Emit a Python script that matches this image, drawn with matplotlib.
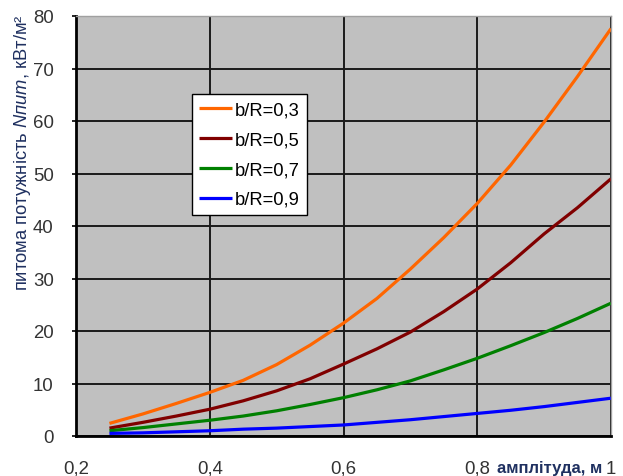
import matplotlib
matplotlib.use("Agg")
import matplotlib.pyplot as plt

plt.rcParams['font.family'] = ['Liberation Sans', 'DejaVu Sans']
plt.rcParams['mathtext.fontset'] = 'custom'
plt.rcParams['mathtext.rm'] = 'Liberation Sans'
plt.rcParams['mathtext.it'] = 'Liberation Sans:italic'
plt.rcParams['mathtext.bf'] = 'Liberation Sans:bold'

# amplitude, m
amplitude = [0.25, 0.30, 0.35, 0.40, 0.45, 0.50, 0.55, 0.60,
             0.65, 0.70, 0.75, 0.80, 0.85, 0.90, 0.95, 1.00]

# specific power, kW/m^2, for each b/R ratio
power_03 = [2.4, 4.2, 6.2, 8.3, 10.6, 13.6, 17.3, 21.5,
            26.2, 31.8, 37.8, 44.3, 51.6, 59.8, 68.5, 77.6]
power_05 = [1.5, 2.6, 3.8, 5.1, 6.7, 8.6, 10.9, 13.7,
            16.6, 19.8, 23.7, 28.0, 33.0, 38.5, 43.5, 49.0]
power_07 = [1.0, 1.6, 2.3, 3.0, 3.8, 4.8, 6.0, 7.3,
            8.8, 10.5, 12.6, 14.8, 17.2, 19.7, 22.4, 25.3]
power_09 = [0.5, 0.6, 0.8, 1.0, 1.3, 1.5, 1.8, 2.1,
            2.6, 3.1, 3.7, 4.3, 4.9, 5.6, 6.4, 7.2]

series_labels = ['b/R=0,3', 'b/R=0,5', 'b/R=0,7', 'b/R=0,9']
series_colors = ['#ff6600', '#800000', '#008000', '#0000ff']

x_ticks = [0.2, 0.4, 0.6, 0.8, 1.0]
x_tick_labels = ['0,2', '0,4', '0,6', '0,8', '1']
y_ticks = [0, 10, 20, 30, 40, 50, 60, 70, 80]
y_tick_labels = ['0', '10', '20', '30', '40', '50', '60', '70', '80']

fig = plt.figure(figsize=(6.23, 4.77), dpi=100)
ax = fig.add_axes([76 / 623, 40 / 477, 535 / 623, 420 / 477])
ax.set_facecolor('#c0c0c0')

for ys, lab, col in zip([power_03, power_05, power_07, power_09],
                        series_labels, series_colors):
    ax.plot(amplitude, ys, color=col, lw=2.3, label=lab, solid_capstyle='butt')

ax.set_xlim(0.2, 1.0)
ax.set_ylim(0, 80)
ax.set_xticks(x_ticks)
ax.set_xticklabels(x_tick_labels)
ax.set_yticks(y_ticks)
ax.set_yticklabels(y_tick_labels)

ax.grid(True, color='#1a1a1a', lw=1.4)
ax.set_axisbelow(True)

ax.tick_params(axis='x', length=0, pad=17, labelsize=13.4, labelcolor='#333333')
ax.tick_params(axis='y', length=3, width=1.2, direction='out', pad=13,
               labelsize=13.4, labelcolor='#333333')

for side in ('top', 'right'):
    ax.spines[side].set_color('#a0a0a0')
    ax.spines[side].set_linewidth(1.0)
for side in ('left', 'bottom'):
    ax.spines[side].set_color('#000000')
    ax.spines[side].set_linewidth(2.0)

leg = ax.legend(loc='upper left', bbox_to_anchor=(0.217, 0.814), fontsize=13.2,
                frameon=True, fancybox=False, edgecolor='#000000',
                facecolor='white', framealpha=1.0, handlelength=1.75,
                handletextpad=0.2, labelspacing=0.7, borderpad=0.4,
                borderaxespad=0.0)
leg.get_frame().set_linewidth(1.0)

ax.text(0.787, -0.074, 'амплітуда, м', transform=ax.transAxes,
        ha='left', va='center', fontsize=12, fontweight='bold',
        color='#1f3060')

fig.text(23 / 623, 1 - 153 / 477,
         'питома потужність $\\mathit{Nпит}$, кВт/м²',
         rotation=90, ha='center', va='center', fontsize=13.2,
         color='#1f3060')

fig.savefig('out.png', dpi=100)
